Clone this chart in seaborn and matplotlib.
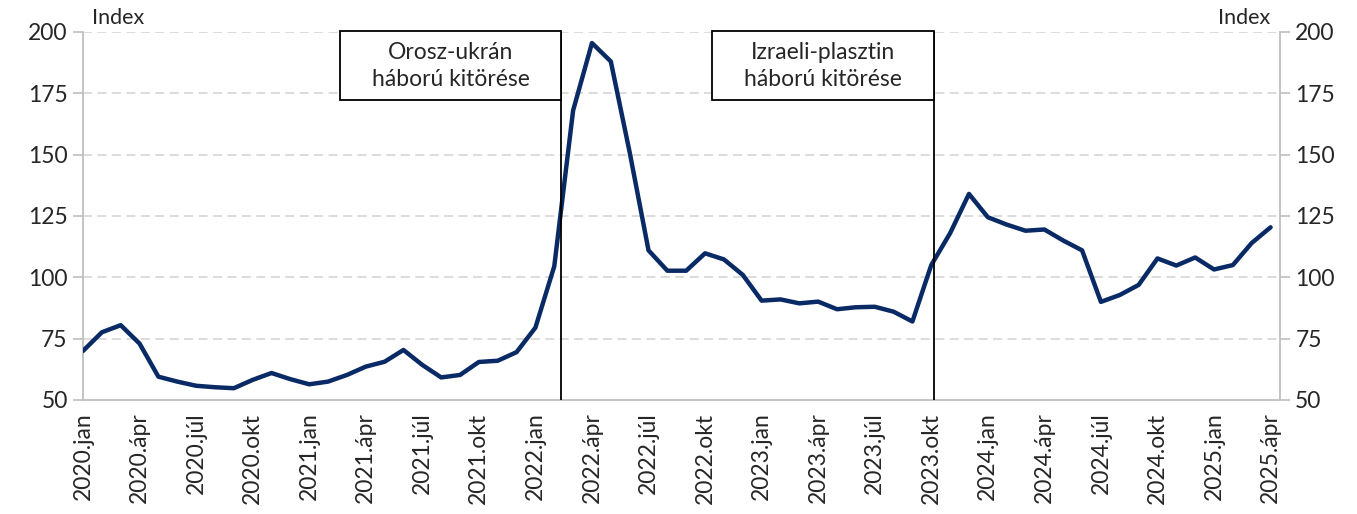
import matplotlib
matplotlib.use('Agg')
import matplotlib.pyplot as plt
import matplotlib.patches as mpatches
import seaborn as sns
import pandas as pd

# havi index, 2020.jan - 2025.ápr
index_values = [70.0, 77.6, 80.5, 73.0, 59.5, 57.5, 55.8, 55.2, 54.8, 58.2,
                61.0, 58.5, 56.4, 57.5, 60.2, 63.6, 65.6, 70.4, 64.3, 59.2,
                60.2, 65.5, 66.0, 69.5, 79.5, 104.5, 168.0, 195.5, 188.0, 151.0,
                111.0, 102.7, 102.7, 109.8, 107.3, 101.0, 90.5, 91.0, 89.4, 90.1,
                87.0, 87.8, 88.0, 86.0, 82.0, 105.0, 118.0, 134.0, 124.5, 121.5,
                119.0, 119.5, 115.0, 111.0, 90.0, 92.8, 96.9, 107.7, 104.8, 108.1,
                103.2, 105.0, 114.0, 120.4]
quarter_labels = ['2020.jan', '2020.ápr', '2020.júl', '2020.okt',
                  '2021.jan', '2021.ápr', '2021.júl', '2021.okt',
                  '2022.jan', '2022.ápr', '2022.júl', '2022.okt',
                  '2023.jan', '2023.ápr', '2023.júl', '2023.okt',
                  '2024.jan', '2024.ápr', '2024.júl', '2024.okt',
                  '2025.jan', '2025.ápr']
event_texts = ['Orosz-ukrán\nháború kitörése', 'Izraeli-plasztin\nháború kitörése']
event_pos = [25.37, 45.12]      # függőleges vonal helye (hónap index)
event_box_left = [13.64, 33.37]

df = pd.DataFrame({'month': range(len(index_values)), 'value': index_values})

sns.set_style('white')
plt.rcParams['font.family'] = ['Lato', 'DejaVu Sans']
fs = 16.5
grey = '#bfbfbf'

fig = plt.figure(figsize=(13.57, 5.14), dpi=100)
ax = fig.add_axes([83 / 1357, 1 - 400 / 514, (1280 - 83) / 1357, 368 / 514])

ax.set_ylim(50, 200)
ax.set_xlim(0, 63.5)
yt = [50, 75, 100, 125, 150, 175, 200]
ax.set_yticks(yt)
for v in yt[1:]:
    ax.axhline(v, color='#d9d9d9', lw=1.3, ls=(0, (5, 3)), zorder=0)

sns.lineplot(data=df, x='month', y='value', ax=ax, color='#0a2a66', lw=3.2,
             solid_joinstyle='round', solid_capstyle='round', zorder=3)

# események
for xp, xl, txt in zip(event_pos, event_box_left, event_texts):
    ax.axvline(xp, color='black', lw=1.3, zorder=4)
    ax.add_patch(mpatches.Rectangle((xl, 172.3), xp - xl, 28.0, facecolor='white',
                                    edgecolor='black', lw=1.3, zorder=5, clip_on=False))
    ax.text((xl + xp) / 2, 186.3, txt, ha='center', va='center', fontsize=fs,
            linespacing=1.35, zorder=6)

ticks = list(range(len(index_values)))
ax.set_xticks(ticks)
ax.set_xticklabels([quarter_labels[i // 3] if i % 3 == 0 else '' for i in ticks],
                   rotation=90, fontsize=fs)
ax.tick_params(axis='x', length=7, color=grey, width=1.2, pad=2)
ax.tick_params(axis='y', length=7, color=grey, width=1.2, labelsize=fs, pad=4)
ax.set_xlabel('')
ax.set_ylabel('')

for s in ['top', 'right']:
    ax.spines[s].set_visible(False)
for s in ['left', 'bottom']:
    ax.spines[s].set_color(grey)
    ax.spines[s].set_linewidth(1.3)

ax2 = ax.twinx()
ax2.set_ylim(50, 200)
ax2.set_yticks(yt)
ax2.tick_params(axis='y', length=7, color=grey, width=1.2, labelsize=fs, pad=4)
for s in ['top', 'left', 'bottom']:
    ax2.spines[s].set_visible(False)
ax2.spines['right'].set_color(grey)
ax2.spines['right'].set_linewidth(1.3)

fig.text(92 / 1357, 1 - 18 / 514, 'Index', fontsize=fs - 1, ha='left', va='center')
fig.text(1270 / 1357, 1 - 18 / 514, 'Index', fontsize=fs - 1, ha='right', va='center')

fig.savefig('out.png', dpi=100)
